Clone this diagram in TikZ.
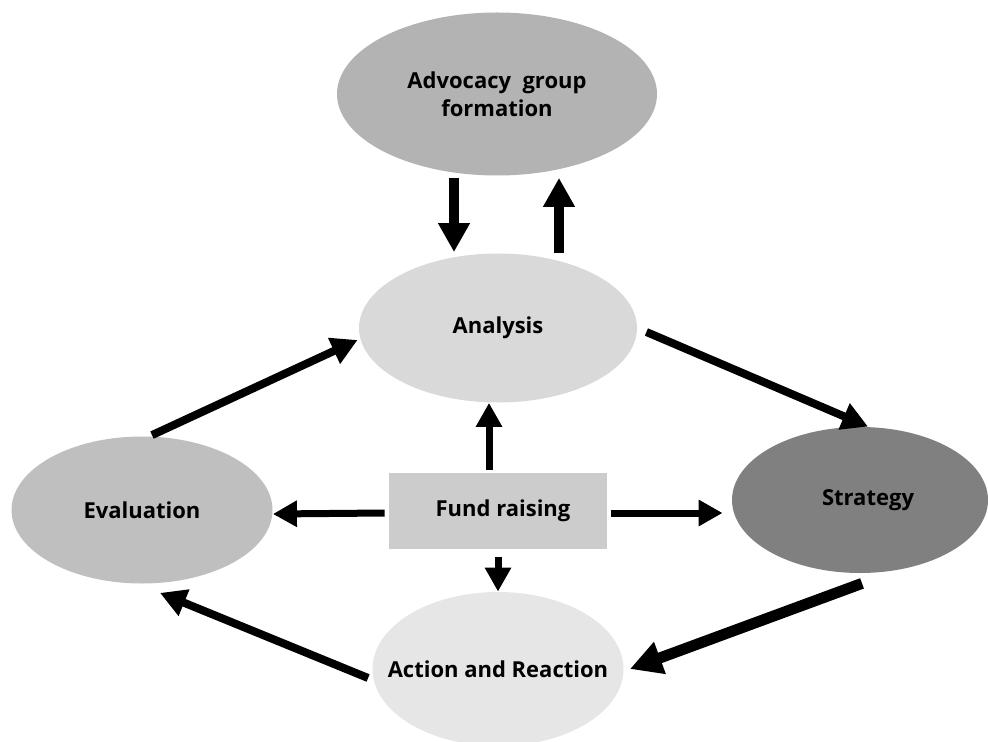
\documentclass[tikz,border=0pt]{standalone}
\usepackage{fontspec}
\setmainfont{Open Sans}
\usetikzlibrary{arrows.meta,shapes.geometric}
\definecolor{advG}{RGB}{179,179,179}
\definecolor{anaG}{RGB}{217,217,217}
\definecolor{evaG}{RGB}{191,191,191}
\definecolor{strG}{RGB}{128,128,128}
\definecolor{actG}{RGB}{230,230,230}
\definecolor{fundG}{RGB}{204,204,204}
\newcommand{\stagetext}[1]{\makebox[0pt]{\shortstack{#1}}}
\begin{document}
\begin{tikzpicture}[x=0.5pt,y=-0.5pt,
  stage/.style={ellipse,inner sep=0pt,font=\bfseries\fontsize{11}{12.5}\selectfont},
  toparr/.style={line width=5pt,-{Triangle[length=14.5pt,width=15pt]}},
  midarr/.style={line width=3.5pt,-{Triangle[length=12pt,width=12.5pt]}},
  diagarr/.style={line width=4pt,-{Triangle[length=13pt,width=13.5pt]}},
  fatarr/.style={line width=5.5pt,-{Triangle[length=16pt,width=16pt]}}]
\useasboundingbox (0,0) rectangle (988,742);
\clip (0,0) rectangle (988,742);
\node[stage,fill=advG,minimum width=160pt,minimum height=81.5pt] (adv) at (497,94) {\stagetext{Advocacy\ \ group\\formation}};
\node[stage,fill=anaG,minimum width=139pt,minimum height=74.5pt] (ana) at (498,328) {\stagetext{Analysis}};
\node[stage,fill=evaG,minimum width=130.5pt,minimum height=73.5pt] (eva) at (142,510) {\stagetext{Evaluation}};
\node[stage,fill=strG,minimum width=128pt,minimum height=73pt] (str) at (860,500) {\stagetext{\hspace*{8pt}Strategy}};
\node[stage,fill=actG,minimum width=125.5pt,minimum height=77pt] (act) at (498,669) {\stagetext{Action and Reaction}};
\node[rectangle,fill=fundG,minimum width=109pt,minimum height=38pt,inner sep=0pt,
  font=\bfseries\fontsize{11}{12.5}\selectfont] (fund) at (498,511) {\hspace*{5pt}Fund raising};
% top pair
\draw[toparr] ([shift={(-43,2)}]adv.south) -- ([shift={(-44,-1)}]ana.north);
\draw[toparr] ([shift={(61,0)}]ana.north) -- ([shift={(62,2)}]adv.south);
% outer cycle
\draw[diagarr] ([shift={(9,4)}]ana.east) -- ([shift={(8,0)}]str.north);
\draw[fatarr] ([shift={(2,10)}]str.south) -- ([shift={(6,0)}]act.east);
\draw[diagarr] ([shift={(-4,9)}]act.west) -- ([shift={(18,9)}]eva.south);
\draw[diagarr] ([shift={(10,-1)}]eva.north) -- ([shift={(-1,12)}]ana.west);
% from fund raising
\draw[midarr] ([shift={(-9,-3)}]fund.north) -- ([shift={(-9,0)}]ana.south);
\draw[midarr] ([shift={(-4,2)}]fund.west) -- ([shift={(0,4)}]eva.east);
\draw[midarr] ([shift={(4,2)}]fund.east) -- ([shift={(-9,13)}]str.west);
\draw[midarr] ([shift={(0,8)}]fund.south) -- (act.north);
\end{tikzpicture}
\end{document}
